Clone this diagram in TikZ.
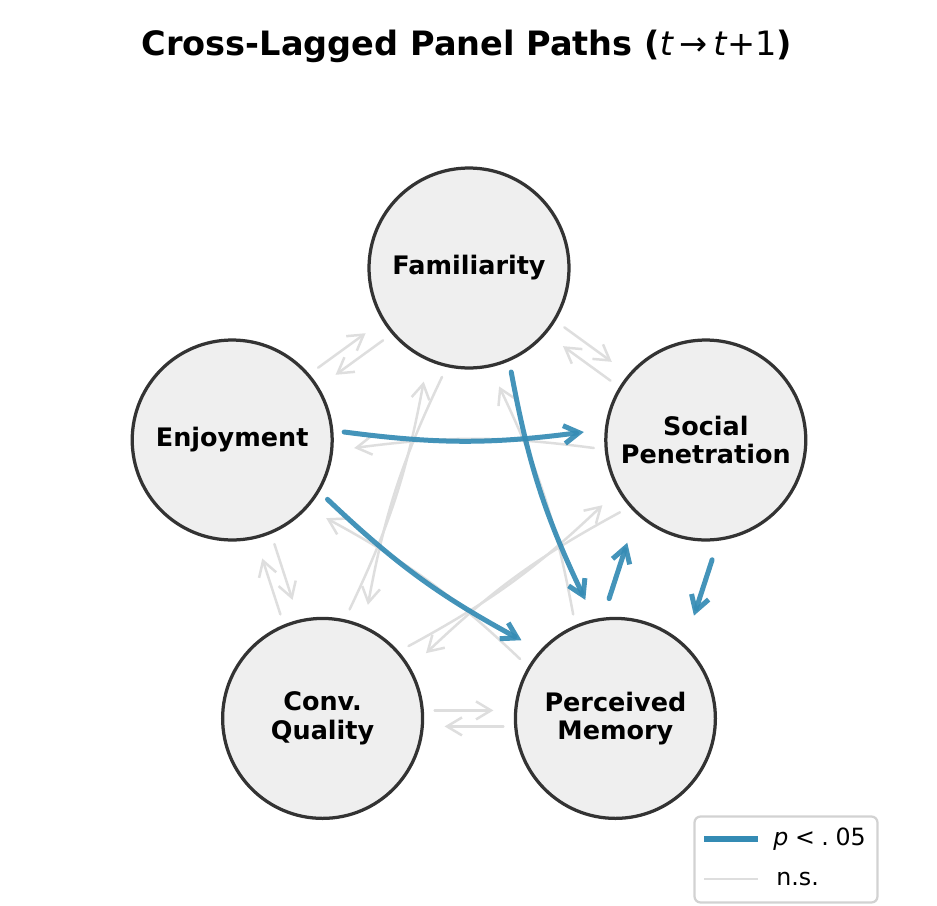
\documentclass[tikz,border=0pt]{standalone}
\usepackage{fontspec}
\setmainfont{DejaVu Sans}
\usetikzlibrary{calc,arrows.meta}
\definecolor{sig}{RGB}{52,139,180}
\definecolor{nsg}{RGB}{222,222,222}
\definecolor{circedge}{RGB}{51,51,51}
\definecolor{circfill}{RGB}{239,239,239}
\definecolor{legedge}{RGB}{210,210,210}
% style, from, to, perpendicular offset, bend
\newcommand\pathArrow[5]{%
  \path ($(#2)!2.24cm!(#3)$) coordinate (pa) ($(#3)!2.44cm!(#2)$) coordinate (pb);
  \draw[#1] ($(pa)!#4!90:(#3)$) to[bend right=#5] ($(pb)!#4!-90:(#2)$);
}
\tikzset{
  var/.style={circle, draw=circedge, fill=circfill, line width=0.065cm, minimum size=4cm,
    inner sep=0pt, align=center, font=\bfseries\fontsize{14.5}{16.2}\selectfont},
  nsarrow/.style={draw=nsg, line width=0.05cm, line cap=round, line join=round,
    -{Straight Barb[length=0.3cm,width=0.36cm]}},
  sigarrow/.style={draw=sig, draw opacity=0.92, line width=0.1cm, line cap=round, line join=round,
    -{Straight Barb[length=0.3cm,width=0.36cm]}},
  legendbox/.style={draw=legedge, fill=white, line width=0.045cm, rounded corners=0.12cm,
    minimum width=3.66cm, minimum height=1.72cm, inner sep=0pt},
  legtext/.style={anchor=west, inner sep=0pt, font=\fontsize{13.5}{15}\selectfont},
}
\begin{document}
\begin{tikzpicture}[x=0.02cm,y=-0.02cm]
\useasboundingbox (0,0) rectangle (937,906);

\node[anchor=base, inner sep=0pt, font=\bfseries\fontsize{19.1}{22}\selectfont] (title) at (467,55)
  {Cross-Lagged Panel Paths (\textmd{\textit{t}\,→\,\textit{t}+1})};

\node[var] (fam) at (469,268) {Familiarity};
\node[var] (soc) at (705.8,440) {Social\\Penetration};
\node[var] (mem) at (615.4,718.4) {Perceived\\Memory};
\node[var] (con) at (322.6,718.4) {Conv.\\Quality};
\node[var] (enj) at (232.2,440) {Enjoyment};

% non-significant paths
\pathArrow{nsarrow}{enj}{fam}{0.16cm}{0}
\pathArrow{nsarrow}{fam}{enj}{0.16cm}{0}
\pathArrow{nsarrow}{fam}{soc}{0.16cm}{0}
\pathArrow{nsarrow}{soc}{fam}{0.16cm}{0}
\pathArrow{nsarrow}{mem}{con}{0.16cm}{0}
\pathArrow{nsarrow}{con}{mem}{0.16cm}{0}
\pathArrow{nsarrow}{con}{enj}{0.16cm}{0}
\pathArrow{nsarrow}{enj}{con}{0.16cm}{0}
\pathArrow{nsarrow}{soc}{enj}{0.16cm}{7.5}
\pathArrow{nsarrow}{mem}{enj}{0.16cm}{7.5}
\pathArrow{nsarrow}{mem}{fam}{0.16cm}{7.5}
\pathArrow{nsarrow}{fam}{con}{0.16cm}{7.5}
\pathArrow{nsarrow}{con}{fam}{0.16cm}{7.5}
\pathArrow{nsarrow}{soc}{con}{0.16cm}{7.5}
\pathArrow{nsarrow}{con}{soc}{0.16cm}{7.5}

% significant paths
\pathArrow{sigarrow}{enj}{soc}{0.16cm}{7.5}
\pathArrow{sigarrow}{enj}{mem}{0.16cm}{7.5}
\pathArrow{sigarrow}{fam}{mem}{0.16cm}{7.5}
\pathArrow{sigarrow}{soc}{mem}{0.86cm}{0}
\pathArrow{sigarrow}{mem}{soc}{0.86cm}{0}

% legend
\node[legendbox] (leg) at (786,859.5) {};
\coordinate (l1a) at (704,839);
\coordinate (l1b) at (758,839);
\coordinate (l2a) at (704,879);
\coordinate (l2b) at (758,879);
\draw[draw=sig, line width=0.11cm] (l1a) -- (l1b);
\draw[draw=nsg, line width=0.05cm] (l2a) -- (l2b);
\node[legtext] (lt1) at (773,839) {\textit{p}\;<\;.\;05};
\node[legtext] (lt2) at (776,879) {n.s.};
\end{tikzpicture}
\end{document}
